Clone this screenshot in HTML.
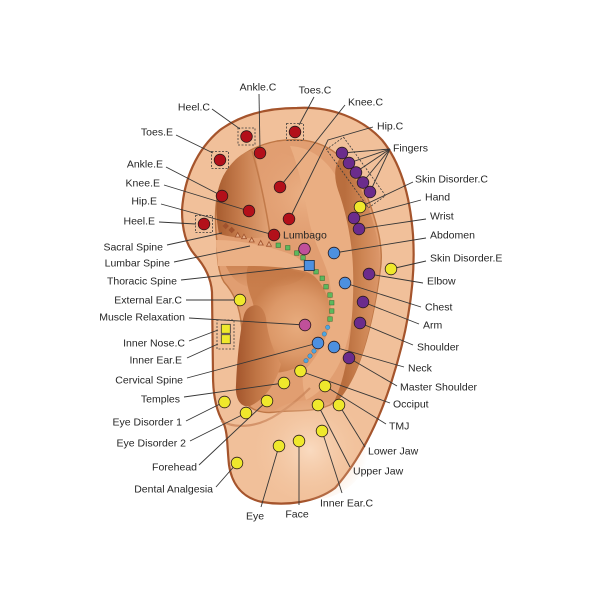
<!DOCTYPE html>
<html><head><meta charset="utf-8"><style>
html,body{margin:0;padding:0;background:#fff;}
svg{display:block;}
text{font-family:"Liberation Sans",Arial,sans-serif;font-size:10.5px;fill:#262626;}
</style></head><body>
<svg width="600" height="600" viewBox="0 0 600 600" xmlns="http://www.w3.org/2000/svg">
<defs>
<linearGradient id="fossa" x1="218" y1="0" x2="268" y2="0" gradientUnits="userSpaceOnUse">
<stop offset="0" stop-color="#A95E31"/><stop offset="0.5" stop-color="#C98050"/><stop offset="1" stop-color="#E0A174"/></linearGradient>
<linearGradient id="groove" x1="345" y1="0" x2="380" y2="0" gradientUnits="userSpaceOnUse">
<stop offset="0" stop-color="#B96E3E"/><stop offset="0.5" stop-color="#CD8553"/><stop offset="1" stop-color="#DC976A"/></linearGradient>
<radialGradient id="concha" cx="298" cy="325" r="50" gradientUnits="userSpaceOnUse">
<stop offset="0" stop-color="#E8AC7E"/><stop offset="0.6" stop-color="#DC9868"/><stop offset="1" stop-color="#C97E4C"/></radialGradient>
<linearGradient id="canal" x1="236" y1="0" x2="280" y2="0" gradientUnits="userSpaceOnUse">
<stop offset="0" stop-color="#A3552C"/><stop offset="0.45" stop-color="#BF7444"/><stop offset="1" stop-color="#D89060"/></linearGradient>
<radialGradient id="lobehi" cx="310" cy="450" r="58" gradientUnits="userSpaceOnUse">
<stop offset="0" stop-color="#FADCC2" stop-opacity="0.95"/><stop offset="1" stop-color="#F3C6A0" stop-opacity="0"/></radialGradient>
<radialGradient id="tophi" cx="305" cy="195" r="55" gradientUnits="userSpaceOnUse">
<stop offset="0" stop-color="#EDB58A" stop-opacity="0.8"/><stop offset="1" stop-color="#E3A074" stop-opacity="0"/></radialGradient>
<linearGradient id="crusShadow" x1="0" y1="262" x2="0" y2="290" gradientUnits="userSpaceOnUse">
<stop offset="0" stop-color="#C27644" stop-opacity="0.75"/><stop offset="1" stop-color="#C27644" stop-opacity="0"/></linearGradient>
</defs>
<rect width="600" height="600" fill="#fff"/>

<!-- ear silhouette -->
<path d="M297,108 C330,106 362,118 382,140 C400,162 410,195 413,235 C416,280 408,330 392,380 C378,425 358,462 335,488 C315,503 285,506 262,502 C243,498 232,485 229,465 C227,447 228,432 223,422 C217,412 213,398 213,375 L212,292 C211,278 204,265 195,255 C186,245 182,230 182,210 C184,180 196,150 220,130 C242,114 268,108 297,108 Z" fill="#F1C09A" stroke="#A5542C" stroke-width="2.2"/>

<!-- inner region -->
<path d="M217,242 C214,218 215,194 224,176 C234,158 252,146 277,141 C303,137 322,142 337,154 C352,167 364,186 371,207 C378,228 384,250 380,272 C376,302 370,332 360,360 C352,382 343,397 330,405 C312,413 292,410 276,412 C262,414 252,410 247,404 L242,330 C240,305 233,292 224,282 C218,272 217,258 217,242 Z" fill="#E19E71" stroke="#BE7645" stroke-width="1.4"/>
<path d="M262,150 C300,150 332,180 332,220 C332,242 302,252 282,242 C264,232 256,182 262,150Z" fill="url(#tophi)"/>

<!-- fossa dark -->
<path d="M219,234 C214,208 216,188 225,173 C234,158 245,151 254,150 C260,175 266,205 271,236 C252,240 234,238 219,234 Z" fill="url(#fossa)"/>
<path d="M252,151 C259,175 265,202 270,234" fill="none" stroke="#C27A4A" stroke-width="1.5"/>

<!-- antihelix light band -->
<path d="M290,146 C310,147 328,160 338,180 C346,200 352,230 354,260 C356,295 352,330 343,355 C335,376 322,392 306,400 C303,390 302,380 303,372 C315,360 324,345 328,328 C333,305 332,285 326,268 C320,252 314,240 310,225 C305,200 300,170 290,146 Z" fill="#EAAE82"/>

<!-- scapha groove -->
<path d="M340,158 C354,172 364,192 370,212 C377,234 382,254 379,276 C375,306 369,336 359,363 C351,384 343,398 332,406 C340,390 345,372 348,352 C352,326 354,296 353,268 C352,240 346,212 338,190 C334,178 334,166 340,158 Z" fill="url(#groove)"/>

<!-- concha -->
<path d="M248,266 C275,262 300,266 314,276 C327,289 332,305 330,322 C327,342 316,357 300,366 C288,372 276,374 268,372 C262,350 258,320 252,300 C247,287 245,276 248,266 Z" fill="url(#concha)"/>
<!-- crus light band & shadow -->
<path d="M226,266 C250,264 280,266 306,274 C300,284 280,288 258,288 C242,288 232,280 226,266 Z" fill="url(#crusShadow)"/>
<path d="M216,240 C240,240 268,246 290,254 C300,258 306,264 308,272 C292,268 270,266 250,266 C236,266 224,266 218,266 Z" fill="#EBB085"/>

<!-- canal -->
<path d="M252,306 C258,303 264,308 266,318 C268,338 274,352 281,364 C276,384 264,400 250,406 C240,408 235,398 236,385 C237,360 240,330 244,315 C246,309 249,307 252,306 Z" fill="url(#canal)"/>

<!-- lobe highlight and crease -->
<path d="M221,421 C238,430 260,426 278,414 C292,405 302,396 310,388" fill="none" stroke="#C9845A" stroke-width="2.2" opacity="0.75"/>
<ellipse cx="310" cy="450" rx="58" ry="50" fill="url(#lobehi)"/>

<!-- leader lines -->
<g stroke="#363636" stroke-width="0.9" fill="none">
<line x1="176" y1="135" x2="213" y2="153"/>
<line x1="212" y1="109" x2="240" y2="129"/>
<line x1="259" y1="94" x2="260" y2="150"/>
<line x1="314" y1="97" x2="299" y2="125"/>
<line x1="345" y1="105" x2="283" y2="183"/>
<polyline points="373,127 328,140 291,216"/>
<line x1="390" y1="149" x2="342" y2="153"/>
<line x1="390" y1="149" x2="349" y2="163"/>
<line x1="390" y1="149" x2="356" y2="172"/>
<line x1="390" y1="149" x2="363" y2="182"/>
<line x1="390" y1="149" x2="370" y2="192"/>
<line x1="413" y1="182" x2="360" y2="207"/>
<line x1="421" y1="200" x2="354" y2="218"/>
<line x1="426" y1="219" x2="359" y2="229"/>
<line x1="426" y1="238" x2="334" y2="253"/>
<line x1="426" y1="261" x2="391" y2="269"/>
<line x1="423" y1="283" x2="369" y2="274"/>
<line x1="421" y1="307" x2="345" y2="283"/>
<line x1="419" y1="324" x2="363" y2="302"/>
<line x1="413" y1="345" x2="360" y2="323"/>
<line x1="404" y1="367" x2="334" y2="347"/>
<line x1="397" y1="386" x2="349" y2="358"/>
<line x1="390" y1="403" x2="300" y2="371"/>
<line x1="386" y1="424" x2="325" y2="386"/>
<line x1="365" y1="447" x2="339" y2="405"/>
<line x1="350" y1="467" x2="318" y2="405"/>
<line x1="342" y1="493" x2="322" y2="431"/>
<line x1="299" y1="505" x2="299" y2="441"/>
<line x1="261" y1="507" x2="279" y2="446"/>
<line x1="216" y1="487" x2="237" y2="463"/>
<line x1="199" y1="465" x2="267" y2="401"/>
<line x1="190" y1="441" x2="246" y2="413"/>
<line x1="186" y1="421" x2="224" y2="402"/>
<line x1="184" y1="397" x2="284" y2="383"/>
<line x1="187" y1="378" x2="318" y2="343"/>
<line x1="187" y1="358" x2="218" y2="344"/>
<line x1="189" y1="341" x2="218" y2="330"/>
<line x1="189" y1="318" x2="305" y2="325"/>
<line x1="186" y1="300" x2="240" y2="300"/>
<line x1="181" y1="280" x2="309" y2="266"/>
<line x1="174" y1="262" x2="250" y2="246"/>
<line x1="167" y1="245" x2="222" y2="233"/>
<line x1="159" y1="222" x2="196" y2="224"/>
<line x1="161" y1="204" x2="274" y2="235"/>
<line x1="164" y1="185" x2="249" y2="211"/>
<line x1="166" y1="167" x2="222" y2="196"/>
</g>

<!-- dashed boxes -->
<g fill="none" stroke="#3a3a3a" stroke-width="0.8" stroke-dasharray="2,1.5">
<rect x="238" y="128" width="17" height="17"/>
<rect x="286.5" y="123.5" width="17" height="17"/>
<rect x="211.5" y="151.5" width="17" height="17"/>
<rect x="195.5" y="215.5" width="17" height="17"/>
<rect x="217" y="320" width="17" height="29"/>
<rect x="-36" y="-10.5" width="72" height="21" transform="translate(356,172.5) rotate(54.3)"/>
</g>

<!-- spine chain -->
<g fill="#A0522D">
<rect x="-2.3" y="-2.3" width="4.6" height="4.6" transform="translate(225.7,226) rotate(45)"/>
<rect x="-2.3" y="-2.3" width="4.6" height="4.6" transform="translate(231.7,230) rotate(45)"/>
</g>
<g fill="#E7B08A" stroke="#A0522D" stroke-width="0.8">
<polygon points="237.7,232.5 240.2,237 235.2,237"/>
<polygon points="244,234.2 246.5,238.7 241.5,238.7"/>
<polygon points="251.7,237.5 254.2,242 249.2,242"/>
<polygon points="260.7,240.5 263.2,245 258.2,245"/>
<polygon points="269,241.7 271.5,246.2 266.5,246.2"/>
</g>
<g fill="#5DB85D" stroke="#2E6B2E" stroke-width="0.5">
<rect x="276" y="243" width="4.5" height="4.5"/>
<rect x="285.5" y="245.5" width="4.5" height="4.5"/>
<rect x="294.5" y="250.8" width="4.5" height="4.5"/>
<rect x="300.8" y="255.5" width="4.5" height="4.5"/>
<rect x="313.8" y="269.5" width="4.5" height="4.5"/>
<rect x="320" y="276" width="4.5" height="4.5"/>
<rect x="323.8" y="284.5" width="4.5" height="4.5"/>
<rect x="327.8" y="292.8" width="4.5" height="4.5"/>
<rect x="329.5" y="300.5" width="4.5" height="4.5"/>
<rect x="329.5" y="308.8" width="4.5" height="4.5"/>
<rect x="327.8" y="316.8" width="4.5" height="4.5"/>
</g>
<g fill="#4DA6E0" stroke="#2A5F8F" stroke-width="0.4">
<circle cx="327.7" cy="327.3" r="2.2"/>
<circle cx="324.3" cy="334" r="2.2"/>
<circle cx="314" cy="351" r="2.2"/>
<circle cx="310" cy="356" r="2.2"/>
<circle cx="306" cy="360.7" r="2.2"/>
</g>
<rect x="304.3" y="260.5" width="10" height="10" fill="#4D90E0" stroke="#1F3550" stroke-width="0.9"/>
<rect x="221.3" y="324.3" width="9" height="9" fill="#EFE82C" stroke="#333" stroke-width="0.8"/>
<rect x="221.3" y="334.7" width="9" height="9" fill="#EFE82C" stroke="#333" stroke-width="0.8"/>

<!-- dots -->
<g stroke="#2a1a1a" stroke-width="0.8">
<g fill="#B3101A">
<circle cx="246.5" cy="136.5" r="5.8"/><circle cx="295" cy="132" r="5.8"/><circle cx="220" cy="160" r="5.8"/>
<circle cx="260" cy="153" r="5.8"/><circle cx="280" cy="187" r="5.8"/><circle cx="222" cy="196" r="5.8"/>
<circle cx="249" cy="211" r="5.8"/><circle cx="289" cy="219" r="5.8"/><circle cx="204" cy="224" r="5.8"/>
<circle cx="274" cy="235" r="5.8"/>
</g>
<g fill="#6B2C8C">
<circle cx="342" cy="153" r="5.8"/><circle cx="349" cy="163" r="5.8"/><circle cx="356" cy="172.5" r="5.8"/>
<circle cx="363" cy="182.5" r="5.8"/><circle cx="370" cy="192" r="5.8"/>
<circle cx="354" cy="218" r="5.8"/><circle cx="359" cy="229" r="5.8"/><circle cx="369" cy="274" r="5.8"/>
<circle cx="363" cy="302" r="5.8"/><circle cx="360" cy="323" r="5.8"/><circle cx="349" cy="358" r="5.8"/>
</g>
<g fill="#4D90E0">
<circle cx="334" cy="253" r="5.8"/><circle cx="345" cy="283" r="5.8"/><circle cx="334" cy="347" r="5.8"/>
<circle cx="318" cy="343" r="5.8"/>
</g>
<g fill="#EFE82C">
<circle cx="360" cy="207" r="5.8"/><circle cx="391" cy="269" r="5.8"/><circle cx="240" cy="300" r="5.8"/>
<circle cx="300.5" cy="371" r="5.8"/><circle cx="284" cy="383" r="5.8"/><circle cx="325" cy="386" r="5.8"/>
<circle cx="224.5" cy="402" r="5.8"/><circle cx="246" cy="413" r="5.8"/><circle cx="267" cy="401" r="5.8"/>
<circle cx="339" cy="405" r="5.8"/><circle cx="318" cy="405" r="5.8"/><circle cx="322" cy="431" r="5.8"/>
<circle cx="299" cy="441" r="5.8"/><circle cx="279" cy="446" r="5.8"/><circle cx="237" cy="463" r="5.8"/>
</g>
<g fill="#C0509A">
<circle cx="304.5" cy="249" r="5.8"/><circle cx="305" cy="325" r="5.8"/>
</g>
</g>

<!-- labels -->
<g text-anchor="end">
<text x="173" y="135.5">Toes.E</text>
<text x="210" y="110.5">Heel.C</text>
<text x="163" y="167.5">Ankle.E</text>
<text x="160" y="186.5">Knee.E</text>
<text x="157" y="204.5">Hip.E</text>
<text x="155" y="224.5">Heel.E</text>
<text x="163" y="250.5">Sacral Spine</text>
<text x="170" y="266.5">Lumbar Spine</text>
<text x="177" y="284.5">Thoracic Spine</text>
<text x="182" y="303.5">External Ear.C</text>
<text x="185" y="320.5">Muscle Relaxation</text>
<text x="185" y="346.5">Inner Nose.C</text>
<text x="182" y="363.5">Inner Ear.E</text>
<text x="183" y="383.5">Cervical Spine</text>
<text x="180" y="402.5">Temples</text>
<text x="182" y="425.5">Eye Disorder 1</text>
<text x="186" y="446.5">Eye Disorder 2</text>
<text x="197" y="470.5">Forehead</text>
<text x="213" y="492.5">Dental Analgesia</text>
</g>
<g text-anchor="middle">
<text x="258" y="90.5">Ankle.C</text>
<text x="315" y="93.5">Toes.C</text>
<text x="255" y="519.5">Eye</text>
<text x="297" y="517.5">Face</text>
</g>
<g>
<text x="348" y="105.5">Knee.C</text>
<text x="377" y="129.5">Hip.C</text>
<text x="393" y="151.5">Fingers</text>
<text x="415" y="182.5">Skin Disorder.C</text>
<text x="425" y="200.5">Hand</text>
<text x="430" y="219.5">Wrist</text>
<text x="430" y="238.5">Abdomen</text>
<text x="430" y="261.5">Skin Disorder.E</text>
<text x="427" y="284.5">Elbow</text>
<text x="425" y="310.5">Chest</text>
<text x="423" y="328.5">Arm</text>
<text x="417" y="350.5">Shoulder</text>
<text x="408" y="371.5">Neck</text>
<text x="400" y="390.5">Master Shoulder</text>
<text x="393" y="407.5">Occiput</text>
<text x="389" y="429.5">TMJ</text>
<text x="368" y="454.5">Lower Jaw</text>
<text x="353" y="474.5">Upper Jaw</text>
<text x="320" y="506.5">Inner Ear.C</text>
<text x="283" y="238.5">Lumbago</text>
</g>
</svg>
</body></html>
